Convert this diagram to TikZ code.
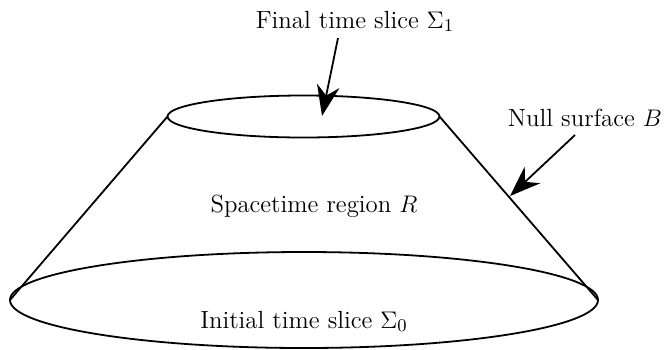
\documentclass[tikz,border=0pt]{standalone}
\usepackage{amsmath}
\usetikzlibrary{arrows.meta,shapes.geometric}

\begin{document}
\begin{tikzpicture}[x=0.5pt,y=-0.5pt,font=\fontsize{12.4}{14}\selectfont,
 slice/.style={draw,ellipse,line width=.9pt,inner sep=0pt,outer sep=0pt},
 ptr/.style={-{Stealth[length=5.4mm,width=4mm]},line width=.9pt},
 lab/.style={inner sep=1pt,anchor=base}]
\useasboundingbox (0,0) rectangle (667,349);
% the two time slices
\node[slice,minimum width=136pt,minimum height=21pt] (top) at (303.5,116.5) {};
\node[slice,minimum width=294pt,minimum height=48pt] (bot) at (304,300) {};
% null boundary
\draw[line width=.9pt] (top.west) -- (bot.west);
\draw[line width=.9pt] (top.east) -- (bot.east);
% labels
\node[lab] (final) at (355,28) {Final time slice $\Sigma_1$};
\node[lab] (null) at (585,126) {Null surface $B$};
\node[lab] (region) at (314,212) {Spacetime region $R$};
\node[lab] (initial) at (304,328) {Initial time slice $\Sigma_0$};
\coordinate (ftip) at (322,116);
\coordinate (ntip) at (510,196);
\draw[ptr] (338,38) -- (ftip);
\draw[ptr] (575,135) -- (ntip);
\end{tikzpicture}
\end{document}
